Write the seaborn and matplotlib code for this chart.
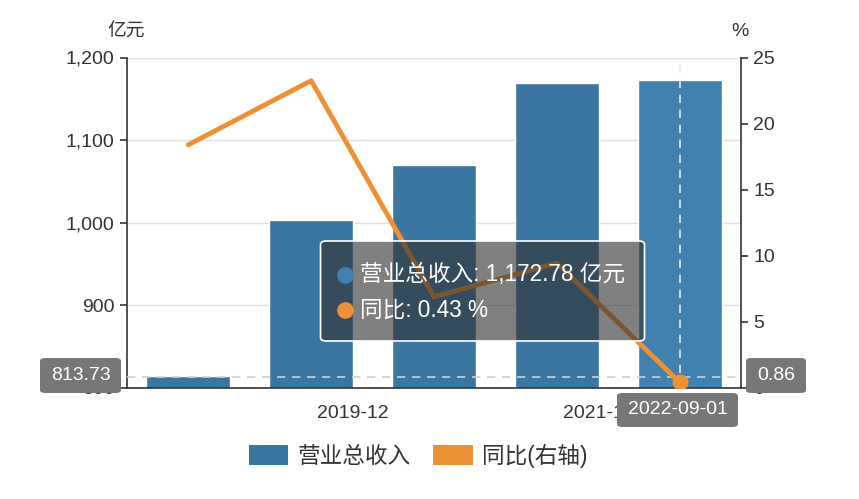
import numpy as np
import pandas as pd
import matplotlib
matplotlib.use("Agg")
import matplotlib.pyplot as plt
from matplotlib.patches import Patch, FancyBboxPatch
import seaborn as sns

# ---- data ----
categories = ["2018-12", "2019-12", "2020-12", "2021-12", "2022-09-01"]
revenue = [814.0, 1003.0, 1069.5, 1168.8, 1172.78]     # 亿元
yoy = [18.4, 23.25, 6.9, 9.45, 0.43]                   # %
xtick_labels = ["2019-12", "2021-12"]
left_ticks = [800, 900, 1000, 1100, 1200]
right_ticks = [0, 5, 10, 15, 20, 25]
cursor_left_value = 813.73
cursor_right_value = 0.86
tooltip_rev = "1,172.78"
tooltip_yoy = "0.43"

BLUE = "#3a76a0"
BLUE_HI = "#4181b0"
ORANGE = "#ee9136"
AXC = "#333333"

sns.set_theme(style="white")
plt.rcParams["font.family"] = ["Liberation Sans", "Noto Sans CJK SC", "DejaVu Sans"]

W, H = 859, 499
fig = plt.figure(figsize=(W / 100, H / 100), dpi=100)
L, R, T, B = 127, 741, 57.5, 388
ax = fig.add_axes([L / W, 1 - B / H, (R - L) / W, (B - T) / H])

df = pd.DataFrame({"cat": categories, "rev": revenue})
pal = {c: (BLUE_HI if i == len(categories) - 1 else BLUE) for i, c in enumerate(categories)}
sns.barplot(data=df, x="cat", y="rev", hue="cat", palette=pal, legend=False,
            width=0.685, saturation=1, ax=ax, zorder=2)
ax.set_xlim(-0.5, len(categories) - 0.5)
ax.set_ylim(left_ticks[0], left_ticks[-1])
ax.set_yticks(left_ticks)
ax.set_yticklabels([f"{v:,}" for v in left_ticks])
ax.set_xticks([1.34, 3.34])
ax.set_xticklabels(xtick_labels)
ax.set_xlabel("")
ax.set_ylabel("")
ax.yaxis.grid(True, color="#e0e0e0", linewidth=1, zorder=0)
ax.set_axisbelow(True)
for s in ["top", "right"]:
    ax.spines[s].set_visible(False)
for s in ["left", "bottom"]:
    ax.spines[s].set_color(AXC)
    ax.spines[s].set_linewidth(1.2)
ax.tick_params(axis="both", colors=AXC, labelcolor=AXC, labelsize=14, length=5,
               width=1.2, direction="out", pad=4)
ax.tick_params(axis="x", pad=7)

ax2 = ax.twinx()
xs = np.arange(len(categories))
sns.lineplot(x=xs, y=yoy, color=ORANGE, linewidth=3.5, ax=ax2, zorder=3)
ax2.scatter([xs[-1]], [yoy[-1]], s=110, color=ORANGE, zorder=4, edgecolor=ORANGE)
ax2.set_ylim(right_ticks[0], right_ticks[-1])
ax2.set_yticks(right_ticks)
for s in ["top", "left", "bottom"]:
    ax2.spines[s].set_visible(False)
ax2.spines["right"].set_color(AXC)
ax2.spines["right"].set_linewidth(1.2)
ax2.tick_params(axis="y", colors=AXC, labelcolor=AXC, labelsize=14, length=5,
                width=1.2, direction="out", pad=4)
ax2.grid(False)

# axis unit labels
fig.text(126 / W, 1 - 32 / H, "亿元", ha="center", va="center", fontsize=13.5, color=AXC)
fig.text(740 / W, 1 - 32 / H, "%", ha="center", va="center", fontsize=14, color=AXC)

# crosshair
ax.axhline(cursor_left_value, color="#d0d0d0", linestyle=(0, (5, 4)), linewidth=1.2, zorder=5)
ax.axvline(xs[-1], color="#e6e6e6", linestyle=(0, (5, 4)), linewidth=1.2, zorder=5)

def label_box(x0, y0, x1, y1, text, size=14):
    fig.patches.append(FancyBboxPatch((x0 / W, 1 - y1 / H), (x1 - x0) / W, (y1 - y0) / H,
                                      boxstyle="round,pad=0,rounding_size=0.006",
                                      transform=fig.transFigure, facecolor="#777777",
                                      edgecolor="none", zorder=10))
    fig.text((x0 + x1) / 2 / W, 1 - (y0 + y1) / 2 / H, text, ha="center", va="center",
             fontsize=size, color="white", zorder=11)

label_box(40, 358, 121, 393, f"{cursor_left_value:.2f}")
label_box(746, 358, 806, 393, f"{cursor_right_value:.2f}")
label_box(617, 393, 738, 427, categories[-1])

# tooltip
tx0, ty0, tx1, ty1 = 320.5, 241, 644.5, 341
fig.patches.append(FancyBboxPatch((tx0 / W, 1 - ty1 / H), (tx1 - tx0) / W, (ty1 - ty0) / H,
                                  boxstyle="round,pad=0,rounding_size=0.007",
                                  transform=fig.transFigure, facecolor=(0.2, 0.2, 0.2, 0.62),
                                  edgecolor="white", linewidth=1.2, zorder=10))
fig.add_artist(plt.Line2D([345 / W], [1 - 275 / H], marker="o", markersize=11,
                          color=BLUE_HI, transform=fig.transFigure, zorder=11))
fig.add_artist(plt.Line2D([345 / W], [1 - 310 / H], marker="o", markersize=11,
                          color=ORANGE, transform=fig.transFigure, zorder=11))
fig.text(360 / W, 1 - 275 / H, f"营业总收入: {tooltip_rev} 亿元", ha="left", va="center",
         fontsize=16.3, color="white", zorder=12)
fig.text(360 / W, 1 - 310 / H, f"同比: {tooltip_yoy} %", ha="left", va="center",
         fontsize=16.3, color="white", zorder=12)

# legend
handles = [Patch(facecolor=BLUE, edgecolor="none", label="营业总收入"),
           Patch(facecolor=ORANGE, edgecolor="none", label="同比(右轴)")]
fig.legend(handles=handles, loc="center", bbox_to_anchor=(418 / W, 1 - 456 / H), ncol=2,
           frameon=False, fontsize=16.3, handlelength=1.75, handleheight=0.95,
           handletextpad=0.4, columnspacing=1.0, labelcolor=AXC)

fig.savefig("out.png", dpi=100)
